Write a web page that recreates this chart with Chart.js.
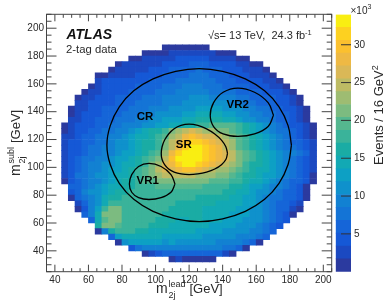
<!DOCTYPE html>
<html>
<head>
<meta charset="utf-8">
<title>ATLAS 2-tag mass plane</title>
<script src="https://cdn.jsdelivr.net/npm/chart.js@4"></script>
<style>
  html, body { margin: 0; padding: 0; background: #fff; }
  #wrap { position: relative; width: 390px; height: 302px; overflow: hidden; }
  canvas { position: absolute; top: 0; }
  #plane { left: 0; }
  #zbar { left: 332px; }
</style>
</head>
<body>
<div id="wrap">
  <canvas id="plane" width="390" height="302"></canvas>
  <canvas id="zbar" width="58" height="302"></canvas>
</div>
<script>
// bin centres on the vertical axis, top row first (GeV)
const massSubl = [186, 182, 178, 174, 170, 166, 162, 158, 154, 150, 146, 142, 138, 134, 130, 126, 122, 118, 114, 110,
  106, 102, 98, 94, 90, 86, 82, 78, 74, 70, 66, 62, 58, 54, 50, 46, 42, 38, 34];
// centre of the first filled bin in each of those rows (GeV)
const rowFirstLead = [106, 94, 86, 78, 74, 66, 66, 62, 58, 54, 54, 50, 50, 50, 46, 46, 46, 46, 46, 46,
  46, 46, 46, 46, 46, 50, 50, 50, 54, 54, 58, 62, 66, 66, 74, 78, 86, 94, 110];
// events per bin in thousands
const events = [
  [.9, .9, .9, .9, .9, .9, .9],
  [.9, .9, .9, .9, 2.6, 2.6, 2.6, 2.6, 2.6, 2.6, 2.6, .9, .9, .9],
  [.9, .9, 2.6, 2.6, 2.6, 2.6, 2.6, 4.3, 4.3, 4.3, 4.3, 4.3, 2.6, 2.6, 2.6, 2.6, .9, .9],
  [.9, 2.6, 2.6, 2.6, 2.6, 2.6, 2.6, 4.3, 4.3, 4.3, 4.3, 6, 6, 6, 4.3, 4.3, 4.3, 4.3, 2.6, 2.6, .9, .9],
  [.9, 2.6, 2.6, 2.6, 2.6, 2.6, 4.3, 4.3, 4.3, 6, 6, 6, 6, 7.7, 6, 6, 6, 4.3, 4.3, 4.3, 2.6, 2.6, 2.6, .9],
  [.9, .9, 2.6, 2.6, 2.6, 2.6, 4.3, 4.3, 4.3, 4.3, 6, 6, 6, 6, 7.7, 7.7, 7.7, 6, 6, 6, 4.3, 4.3, 4.3, 2.6, 2.6, 2.6, .9],
  [2.6, 4.3, 4.3, 4.3, 4.3, 4.3, 4.3, 4.3, 6, 6, 6, 6, 7.7, 7.7, 7.7, 7.7, 7.7, 7.7, 6, 6, 6, 4.3, 4.3, 4.3, 4.3, 2.6, 2.6, .9],
  [.9, 2.6, 4.3, 4.3, 4.3, 4.3, 4.3, 6, 6, 6, 6, 7.7, 7.7, 7.7, 9.4, 9.4, 9.4, 7.7, 7.7, 7.7, 6, 6, 6, 6, 4.3, 4.3, 4.3, 2.6, 2.6, .9],
  [.9, 2.6, 2.6, 4.3, 4.3, 4.3, 4.3, 6, 6, 6, 6, 7.7, 7.7, 7.7, 9.4, 9.4, 9.4, 9.4, 9.4, 7.7, 7.7, 7.7, 7.7, 6, 6, 6, 6, 4.3, 4.3, 4.3, 2.6, .9],
  [.9, 2.6, 2.6, 4.3, 4.3, 4.3, 6, 6, 6, 6, 7.7, 7.7, 7.7, 9.4, 9.4, 9.4, 9.4, 11, 11, 11, 9.4, 9.4, 9.4, 9.4, 7.7, 7.7, 6, 6, 6, 6, 4.3, 4.3, 2.6, .9],
  [2.6, 2.6, 4.3, 4.3, 4.3, 4.3, 6, 6, 6, 7.7, 7.7, 7.7, 7.7, 9.4, 9.4, 9.4, 11, 11, 11, 11, 11, 11, 11, 9.4, 9.4, 7.7, 7.7, 6, 6, 6, 4.3, 4.3, 2.6, .9],
  [.9, 2.6, 2.6, 4.3, 4.3, 6, 6, 6, 6, 7.7, 7.7, 7.7, 9.4, 9.4, 9.4, 11, 11, 11, 11, 12.8, 12.8, 12.8, 12.8, 11, 11, 11, 9.4, 9.4, 7.7, 7.7, 6, 6, 4.3, 4.3, 2.6, .9],
  [.9, 2.6, 4.3, 4.3, 4.3, 6, 6, 6, 7.7, 7.7, 7.7, 9.4, 9.4, 11, 11, 11, 11, 12.8, 12.8, 14.4, 14.4, 14.4, 14.4, 12.8, 12.8, 11, 11, 9.4, 9.4, 7.7, 7.7, 6, 6, 4.3, 2.6, .9],
  [2.6, 2.6, 4.3, 4.3, 6, 6, 6, 7.7, 7.7, 7.7, 9.4, 9.4, 11, 11, 12.8, 12.8, 12.8, 14.4, 14.4, 16.2, 16.2, 16.2, 16.2, 14.4, 14.4, 12.8, 11, 11, 9.4, 9.4, 7.7, 6, 6, 4.3, 2.6, .9],
  [.9, 2.6, 4.3, 4.3, 4.3, 6, 6, 7.7, 7.7, 9.4, 9.4, 9.4, 11, 11, 12.8, 12.8, 14.4, 14.4, 16.2, 16.2, 17.9, 17.9, 19.6, 19.6, 19.6, 19.6, 17.9, 16.2, 14.4, 12.8, 11, 9.4, 7.7, 6, 4.3, 4.3, 2.6, .9],
  [.9, 2.6, 4.3, 4.3, 6, 6, 7.7, 7.7, 9.4, 9.4, 11, 12.8, 14.4, 16.2, 16.2, 17.9, 21.3, 23, 24.7, 26.4, 24.7, 23, 23, 21.3, 21.3, 19.6, 17.9, 16.2, 14.4, 12.8, 11, 9.4, 7.7, 7.7, 6, 4.3, 2.6, .9],
  [2.6, 2.6, 4.3, 6, 6, 7.7, 7.7, 9.4, 9.4, 11, 12.8, 14.4, 14.4, 16.2, 17.9, 19.6, 23, 24.7, 28, 29.8, 28, 26.4, 26.4, 24.7, 23, 21.3, 19.6, 17.9, 16.2, 14.4, 12.8, 11, 9.4, 7.7, 6, 4.3, 2.6, .9],
  [2.6, 4.3, 4.3, 6, 6, 7.7, 7.7, 9.4, 11, 11, 12.8, 14.4, 16.2, 16.2, 17.9, 21.3, 24.7, 26.4, 29.8, 31.5, 31.5, 29.8, 28, 26.4, 24.7, 23, 19.6, 17.9, 16.2, 14.4, 12.8, 11, 9.4, 7.7, 6, 6, 4.3, 2.6],
  [2.6, 4.3, 4.3, 6, 7.7, 7.7, 9.4, 9.4, 11, 11, 12.8, 14.4, 16.2, 16.2, 17.9, 21.3, 24.7, 28, 31.5, 33.2, 33.2, 31.5, 29.8, 28, 24.7, 23, 19.6, 17.9, 16.2, 14.4, 12.8, 11, 9.4, 7.7, 7.7, 6, 4.3, 2.6],
  [2.6, 4.3, 4.3, 6, 7.7, 7.7, 9.4, 9.4, 11, 12.8, 12.8, 14.4, 16.2, 17.9, 19.6, 23, 28, 31.5, 33.2, 33.2, 33.2, 31.5, 29.8, 28, 26.4, 24.7, 21.3, 19.6, 17.9, 16.2, 14.4, 12.8, 11, 9.4, 9.4, 7.7, 6, 2.6],
  [2.6, 4.3, 6, 7.7, 7.7, 9.4, 9.4, 11, 12.8, 12.8, 14.4, 16.2, 17.9, 19.6, 21.3, 24.7, 29.8, 33.2, 33.2, 33.2, 33.2, 31.5, 29.8, 28, 26.4, 24.7, 21.3, 19.6, 17.9, 16.2, 14.4, 12.8, 11, 9.4, 7.7, 6, 4.3, 2.6],
  [2.6, 4.3, 6, 7.7, 9.4, 9.4, 11, 11, 12.8, 14.4, 14.4, 16.2, 17.9, 21.3, 23, 26.4, 28, 31.5, 33.2, 33.2, 31.5, 29.8, 28, 26.4, 24.7, 23, 21.3, 17.9, 16.2, 16.2, 14.4, 12.8, 11, 9.4, 7.7, 6, 4.3, 2.6],
  [2.6, 4.3, 6, 7.7, 9.4, 9.4, 11, 12.8, 12.8, 14.4, 16.2, 17.9, 19.6, 21.3, 24.7, 26.4, 26.4, 28, 29.8, 29.8, 28, 26.4, 24.7, 23, 23, 21.3, 19.6, 17.9, 16.2, 14.4, 14.4, 12.8, 11, 9.4, 7.7, 6, 4.3, 2.6],
  [2.6, 4.3, 7.7, 7.7, 9.4, 11, 11, 12.8, 14.4, 14.4, 16.2, 17.9, 19.6, 21.3, 23, 24.7, 24.7, 24.7, 24.7, 24.7, 23, 23, 23, 21.3, 21.3, 19.6, 17.9, 16.2, 16.2, 14.4, 12.8, 12.8, 11, 9.4, 7.7, 6, 4.3, .9],
  [.9, 4.3, 6, 7.7, 9.4, 9.4, 11, 12.8, 14.4, 16.2, 16.2, 17.9, 19.6, 19.6, 21.3, 21.3, 21.3, 21.3, 21.3, 21.3, 21.3, 21.3, 19.6, 19.6, 19.6, 17.9, 17.9, 16.2, 14.4, 14.4, 12.8, 11, 9.4, 7.7, 6, 6, 4.3, .9],
  [6, 6, 7.7, 9.4, 11, 12.8, 14.4, 14.4, 16.2, 16.2, 17.9, 17.9, 17.9, 19.6, 19.6, 19.6, 19.6, 19.6, 19.6, 19.6, 17.9, 17.9, 17.9, 17.9, 16.2, 16.2, 14.4, 12.8, 12.8, 11, 9.4, 9.4, 7.7, 6, 4.3, .9],
  [4.3, 6, 9.4, 11, 11, 12.8, 14.4, 16.2, 16.2, 17.9, 17.9, 17.9, 17.9, 17.9, 17.9, 17.9, 17.9, 17.9, 17.9, 17.9, 17.9, 17.9, 17.9, 16.2, 16.2, 14.4, 14.4, 12.8, 11, 11, 9.4, 7.7, 6, 6, 4.3, .9],
  [.9, 6, 7.7, 9.4, 11, 14.4, 16.2, 16.2, 17.9, 17.9, 17.9, 17.9, 17.9, 17.9, 17.9, 17.9, 17.9, 17.9, 17.9, 16.2, 16.2, 16.2, 16.2, 16.2, 14.4, 14.4, 12.8, 12.8, 11, 9.4, 7.7, 7.7, 6, 6, 4.3, .9],
  [2.6, 6, 9.4, 11, 14.4, 17.9, 17.9, 17.9, 17.9, 17.9, 17.9, 17.9, 17.9, 17.9, 17.9, 16.2, 16.2, 16.2, 16.2, 16.2, 16.2, 14.4, 14.4, 14.4, 14.4, 12.8, 12.8, 11, 9.4, 7.7, 6, 6, 4.3, 2.6],
  [.9, 4.3, 9.4, 12.8, 17.9, 21.3, 21.3, 17.9, 17.9, 17.9, 17.9, 17.9, 17.9, 17.9, 16.2, 16.2, 16.2, 16.2, 16.2, 14.4, 14.4, 14.4, 14.4, 14.4, 12.8, 12.8, 11, 11, 9.4, 7.7, 6, 6, 2.6, .9],
  [6, 9.4, 14.4, 21.3, 21.3, 21.3, 17.9, 17.9, 17.9, 17.9, 17.9, 17.9, 16.2, 16.2, 16.2, 16.2, 16.2, 16.2, 14.4, 14.4, 14.4, 14.4, 12.8, 12.8, 12.8, 11, 11, 9.4, 7.7, 6, 4.3, .9],
  [6, 14.4, 19.6, 21.3, 21.3, 17.9, 17.9, 17.9, 17.9, 17.9, 16.2, 16.2, 16.2, 14.4, 14.4, 16.2, 16.2, 14.4, 14.4, 14.4, 12.8, 12.8, 12.8, 11, 11, 11, 9.4, 7.7, 6, 4.3],
  [16.2, 21.3, 21.3, 19.6, 17.9, 17.9, 17.9, 17.9, 16.2, 16.2, 16.2, 14.4, 14.4, 14.4, 14.4, 14.4, 14.4, 12.8, 12.8, 12.8, 12.8, 11, 11, 11, 9.4, 7.7, 6, 4.3],
  [.9, 9.4, 16.2, 17.9, 17.9, 17.9, 16.2, 16.2, 14.4, 14.4, 14.4, 14.4, 14.4, 14.4, 14.4, 12.8, 12.8, 12.8, 12.8, 11, 11, 11, 11, 9.4, 9.4, 7.7, 6],
  [6, 12.8, 14.4, 14.4, 14.4, 14.4, 14.4, 14.4, 12.8, 12.8, 12.8, 12.8, 12.8, 12.8, 11, 11, 11, 11, 11, 9.4, 9.4, 9.4, 7.7, 6],
  [.9, 11, 12.8, 12.8, 12.8, 12.8, 12.8, 11, 12.8, 11, 11, 11, 11, 11, 11, 9.4, 9.4, 9.4, 9.4, 7.7, 6, .9],
  [4.3, 7.7, 9.4, 9.4, 9.4, 9.4, 9.4, 9.4, 9.4, 9.4, 9.4, 9.4, 9.4, 9.4, 7.7, 7.7, 6, .9],
  [.9, 2.6, 4.3, 6, 6, 6, 6, 6, 6, 6, 6, 6, 2.6, .9],
  [.9, 2.6, .9, .9, .9, .9, .9],
];

// region outlines, [lead, subl] in GeV
const regionCR = [[181, 116], [179, 130], [173.6, 143.5], [165, 155], [153.5, 163.6], [140, 169], [126, 171], [112, 169], [98.5, 163.6],
  [87, 155], [78.4, 143.5], [73, 130], [71, 116], [73, 102], [78.4, 88.5], [87, 77], [98.5, 68.4], [112, 63], [126, 61], [140, 63],
  [153.5, 68.4], [165, 77], [173.6, 88.5], [179, 102], [181, 116]];
const regionSR = [[142.9, 110], [141.9, 114.8], [139.3, 119.6], [135.3, 124], [130.4, 127.7], [125.2, 130.1], [120, 131], [115.2, 130.1],
  [111.1, 127.7], [107.8, 124], [105.4, 119.6], [103.9, 114.8], [103.4, 110], [103.9, 105.6], [105.4, 101.9], [107.8, 98.8], [111.1, 96.6],
  [115.2, 95.3], [120, 94.8], [125.2, 95.3], [130.4, 96.6], [135.3, 98.8], [139.3, 101.9], [141.9, 105.6], [142.9, 110]];
const regionVR1 = [[111.6, 88], [109.2, 94.8], [103.3, 100.6], [96.1, 102.8], [89.9, 100.6], [85.8, 94.8], [84.4, 88], [85.8, 82.1],
  [89.9, 78.2], [96.1, 76.9], [103.3, 78.2], [109.2, 82.1], [111.6, 88]];
const regionVR2 = [[170.3, 137.4], [167.1, 146.5], [159, 154], [149.1, 157], [140.3, 154], [134.6, 146.5], [132.6, 137.4], [134.6, 129.3],
  [140.3, 124], [149.1, 122.2], [159, 124], [167.1, 129.3], [170.3, 137.4]];

const leadTicks = [40, 60, 80, 100, 120, 140, 160, 180, 200];
const sublTicks = [40, 60, 80, 100, 120, 140, 160, 180, 200];
const zTicks = [5, 10, 15, 20, 25, 30];
const zEdges = [0, 1.7, 3.4, 5.1, 6.8, 8.5, 10.2, 11.9, 13.6, 15.3, 17, 18.7, 20.4, 22.1, 23.8, 25.5, 27.2, 28.9, 30.6, 32.3, 34];
const palette = ['#2b3a9f', '#1b49c1', '#1558d6', '#1565d8', '#1474d6', '#1281d2', '#0f91cc', '#0da0c4', '#12a9b4', '#1aaca4',
  '#3ab39a', '#55b78f', '#7cbb80', '#9ebc72', '#bdbb64', '#dab857', '#eeb944', '#fbc02f', '#fdd120', '#f9ee12'];

const FONT = '"Liberation Sans", Arial, sans-serif';
const INK = '#2a2a2a';

function colourFor(v) {
  for (let i = 0; i < palette.length; i++) {
    if (v < zEdges[i + 1]) return palette[i];
  }
  return palette[palette.length - 1];
}

// one floating bar per filled bin
const cells = [];
events.forEach(function (row, r) {
  row.forEach(function (v, c) {
    const centreX = rowFirstLead[r] + c * 4;
    cells.push({ x: centreX, y: [massSubl[r] - 2, massSubl[r] + 2], v: v });
  });
});

function outline(points) {
  return {
    type: 'line',
    order: 0,
    data: points.map(function (p) { return { x: p[0], y: p[1] }; }),
    borderColor: '#000',
    borderWidth: 1.3,
    tension: 0.4,
    pointRadius: 0,
    fill: false,
  };
}

function text(ctx, str, x, y, font, colour, align) {
  ctx.font = font + ' ' + FONT;
  ctx.fillStyle = colour || INK;
  ctx.textAlign = align || 'left';
  ctx.textBaseline = 'alphabetic';
  ctx.fillText(str, x, y);
  return ctx.measureText(str).width;
}

// ROOT style inward ticks on all four sides, frame and the labels on top of the plot
const rootFrame = {
  id: 'rootFrame',
  afterDatasetsDraw: function (chart) {
    const ctx = chart.ctx;
    const a = chart.chartArea;
    const xs = chart.scales.x;
    const ys = chart.scales.y;
    ctx.save();
    ctx.strokeStyle = '#444';
    ctx.lineWidth = 1;
    ctx.strokeRect(a.left, a.top, a.right - a.left, a.bottom - a.top);
    ctx.beginPath();
    for (let v = 35; v <= 205; v += 5) {
      const len = v % 20 === 0 ? 7 : 3.5;
      const px = xs.getPixelForValue(v);
      ctx.moveTo(px, a.bottom); ctx.lineTo(px, a.bottom - len);
      ctx.moveTo(px, a.top); ctx.lineTo(px, a.top + len);
    }
    for (let v = 25; v <= 210; v += 5) {
      const len = v % 20 === 0 ? 10 : 5;
      const py = ys.getPixelForValue(v);
      ctx.moveTo(a.left, py); ctx.lineTo(a.left + len, py);
      ctx.moveTo(a.right, py); ctx.lineTo(a.right - len, py);
    }
    ctx.stroke();

    text(ctx, 'ATLAS', 66.5, 38.8, 'italic bold 14px', '#111');
    text(ctx, '2-tag data', 66, 53, '11.3px');
    let w = text(ctx, '\u221As= 13 TeV,  24.3 fb', 208, 39, '11px');
    text(ctx, '-1', 208 + w, 34.5, '7.5px');

    text(ctx, 'CR', 145, 120, 'bold 11.5px', '#000', 'center');
    text(ctx, 'SR', 183.7, 148, 'bold 11.5px', '#000', 'center');
    text(ctx, 'VR1', 147.7, 184, 'bold 11.5px', '#000', 'center');
    text(ctx, 'VR2', 237.7, 108, 'bold 11.5px', '#000', 'center');

    // axis titles, m with stacked sub and superscript
    text(ctx, 'm', 156, 293, '14px');
    text(ctx, 'lead', 168.5, 287, '9px');
    text(ctx, '2j', 168.5, 298, '9px');
    text(ctx, '[GeV]', 189.5, 293, '13px');

    ctx.translate(20, 176);
    ctx.rotate(-Math.PI / 2);
    text(ctx, 'm', 0, 0, '14px');
    text(ctx, 'subl', 12.5, -6, '9px');
    text(ctx, '2j', 12.5, 5, '9px');
    text(ctx, '[GeV]', 33, 0, '13px');
    ctx.restore();
  },
};

new Chart(document.getElementById('plane'), {
  type: 'bar',
  data: {
    datasets: [
      {
        order: 1,
        data: cells,
        backgroundColor: function (c) { return c.raw ? colourFor(c.raw.v) : 'transparent'; },
        barPercentage: 1,
        categoryPercentage: 1,
        borderWidth: 0,
      },
      outline(regionCR),
      outline(regionSR),
      outline(regionVR1),
      outline(regionVR2),
    ],
  },
  options: {
    responsive: false,
    animation: false,
    events: [],
    layout: { padding: { left: 0, right: 58.3, top: 14.3, bottom: 0 } },
    plugins: { legend: { display: false }, tooltip: { enabled: false } },
    scales: {
      x: {
        type: 'linear',
        offset: false,
        min: 35,
        max: 205,
        afterBuildTicks: function (s) { s.ticks = leadTicks.map(function (v) { return { value: v }; }); },
        afterFit: function (s) { s.height = 30.3; },
        grid: { display: false, drawTicks: false },
        border: { display: false },
        ticks: { color: INK, padding: 3, maxRotation: 0, autoSkip: false, font: { family: FONT, size: 10 } },
      },
      y: {
        type: 'linear',
        min: 25,
        max: 210,
        afterBuildTicks: function (s) { s.ticks = sublTicks.map(function (v) { return { value: v }; }); },
        afterFit: function (s) { s.width = 46.5; },
        grid: { display: false, drawTicks: false },
        border: { display: false },
        ticks: { color: INK, padding: 2.5, autoSkip: false, font: { family: FONT, size: 10 } },
      },
    },
  },
  plugins: [rootFrame],
});

const zbarDecor = {
  id: 'zbarDecor',
  afterDatasetsDraw: function (chart) {
    const ctx = chart.ctx;
    const a = chart.chartArea;
    const ys = chart.scales.y;
    ctx.save();
    ctx.strokeStyle = '#333';
    ctx.lineWidth = 1;
    ctx.beginPath();
    zTicks.forEach(function (v) {
      const py = ys.getPixelForValue(v);
      ctx.moveTo(a.right, py); ctx.lineTo(a.right - 10, py);
    });
    ctx.stroke();

    const w = text(ctx, '\u00d710', 18.5, 14, '10px');
    text(ctx, '3', 18.5 + w, 9, '7px');

    ctx.translate(51, 165);
    ctx.rotate(-Math.PI / 2);
    const t = text(ctx, 'Events / 16 GeV', 0, 0, '13px');
    text(ctx, '2', t, -5, '9px');
    ctx.restore();
  },
};

new Chart(document.getElementById('zbar'), {
  type: 'bar',
  data: {
    labels: [''],
    datasets: palette.map(function (colour, i) {
      return {
        data: [[zEdges[i], zEdges[i + 1]]],
        backgroundColor: colour,
        barPercentage: 1,
        categoryPercentage: 1,
        grouped: false,
        borderWidth: 0,
      };
    }),
  },
  options: {
    responsive: false,
    animation: false,
    events: [],
    layout: { padding: { left: 3.7, right: 0, top: 14.5, bottom: 30.3 } },
    plugins: { legend: { display: false }, tooltip: { enabled: false } },
    scales: {
      x: { display: false },
      y: {
        position: 'right',
        min: 0,
        max: 34,
        afterBuildTicks: function (s) { s.ticks = zTicks.map(function (v) { return { value: v }; }); },
        afterFit: function (s) { s.width = 39; },
        grid: { display: false, drawTicks: false },
        border: { display: false },
        ticks: { color: INK, padding: 3, autoSkip: false, font: { family: FONT, size: 10 } },
      },
    },
  },
  plugins: [zbarDecor],
});
</script>
</body>
</html>
